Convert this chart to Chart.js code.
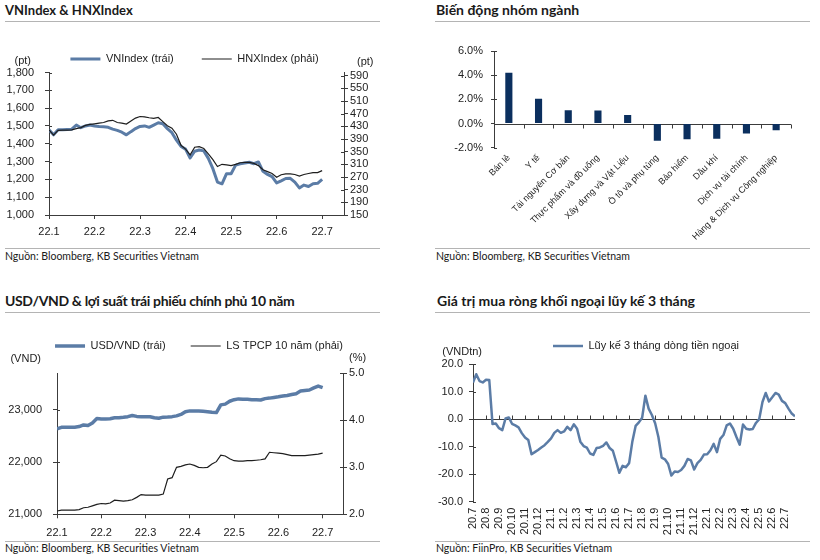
<!DOCTYPE html>
<html lang="vi">
<head>
<meta charset="utf-8">
<title>VNIndex, nhóm ngành, tỷ giá, khối ngoại</title>
<script src="https://cdn.jsdelivr.net/npm/chart.js@4.4.1/dist/chart.umd.min.js"></script>
<style>
  html, body { margin: 0; padding: 0; background: #fff; }
  body { position: relative; width: 820px; height: 560px; overflow: hidden; font-family: Lato, 'Noto Sans', sans-serif; color: #1a1a1a; }
  .title { position: absolute; font-weight: 700; font-size: 14px; line-height: 18px; white-space: nowrap; }
  .rule { position: absolute; height: 0; border-top: 1px solid #b4b4b4; }
  .src { position: absolute; font-size: 10.5px; line-height: 12px; white-space: nowrap; }
  canvas { position: absolute; }
</style>
</head>
<body>

<div class="title" style="left:5px;top:1px;font-size:13px">VNIndex &amp; HNXIndex</div>
<div class="rule" style="left:5px;top:21px;width:375px"></div>
<canvas id="c1" width="400" height="215" style="left:0;top:30px"></canvas>
<div class="rule" style="left:5px;top:248px;width:375px"></div>
<div class="src" style="left:5px;top:250px">Nguồn: Bloomberg, KB Securities Vietnam</div>

<div class="title" style="left:436px;top:1px">Biến động nhóm ngành</div>
<div class="rule" style="left:435px;top:21px;width:375px"></div>
<canvas id="c2" width="400" height="215" style="left:420px;top:30px"></canvas>
<div class="rule" style="left:435px;top:248px;width:375px"></div>
<div class="src" style="left:436px;top:250px">Nguồn: Bloomberg, KB Securities Vietnam</div>

<div class="title" style="left:5px;top:292px;letter-spacing:-0.35px">USD/VND &amp; lợi suất trái phiếu chính phủ 10 năm</div>
<div class="rule" style="left:5px;top:312px;width:375px"></div>
<canvas id="c3" width="400" height="215" style="left:0;top:325px"></canvas>
<div class="rule" style="left:5px;top:541px;width:375px"></div>
<div class="src" style="left:5px;top:542px">Nguồn: Bloomberg, KB Securities Vietnam</div>

<div class="title" style="left:437px;top:292px">Giá trị mua ròng khối ngoại lũy kế 3 tháng</div>
<div class="rule" style="left:435px;top:312px;width:375px"></div>
<canvas id="c4" width="400" height="215" style="left:420px;top:325px"></canvas>
<div class="rule" style="left:435px;top:541px;width:375px"></div>
<div class="src" style="left:436px;top:542px">Nguồn: FiinPro, KB Securities Vietnam</div>

<script>
// ---- dữ liệu ----
// VNIndex & HNXIndex, 22.1 -> 22.7, 10 điểm / tháng
const indexMonths = ['22.1', '22.2', '22.3', '22.4', '22.5', '22.6', '22.7'];
const vnIndex = [1478, 1450, 1478, 1478, 1480, 1482, 1505, 1490, 1500, 1505,
  1500, 1497, 1495, 1492, 1482, 1475, 1465, 1450, 1468, 1485,
  1497, 1500, 1492, 1505, 1518, 1512, 1485, 1462, 1420, 1385,
  1370, 1320, 1358, 1365, 1360, 1318, 1260, 1185, 1175, 1232,
  1232, 1280, 1288, 1292, 1296, 1288, 1298, 1245, 1228, 1215,
  1180, 1192, 1205, 1206, 1185, 1152, 1168, 1160, 1176, 1178, 1200];
const hnxIndex = [419, 402, 417, 418, 418, 419, 423, 426, 433, 436,
  438, 440, 442, 447, 449, 442, 440, 437, 447, 456,
  461, 460, 457, 455, 458, 445, 432, 424, 405, 370,
  358, 340, 364, 366, 360, 343, 325, 303, 310, 308,
  306, 310, 315, 316, 316, 313, 306, 293, 287, 281,
  269, 277, 280, 280, 278, 273, 278, 281, 284, 284, 290];
const vnTicks = [1000, 1100, 1200, 1300, 1400, 1500, 1600, 1700, 1800];
const hnxTicks = [150, 190, 230, 270, 310, 350, 390, 430, 470, 510, 550, 590];

// Biến động nhóm ngành (%)
const sectors = ['Bán lẻ', 'Y tế', 'Tài nguyên Cơ bản', 'Thực phẩm và đồ uống', 'Xây dựng và Vật Liệu',
  'Ô tô và phụ tùng', 'Bảo hiểm', 'Dầu khí', 'Dịch vụ tài chính', 'Hàng & Dịch vụ Công nghiệp'];
const sectorChange = [4.2, 2.05, 1.1, 1.08, 0.7, -1.42, -1.3, -1.25, -0.82, -0.55];
const sectorTicks = [-2, 0, 2, 4, 6];

// USD/VND & LS TPCP 10 năm, 22.1 -> 22.7, 10 điểm / tháng
const usdVnd = [22635, 22665, 22667, 22667, 22668, 22680, 22712, 22700, 22750, 22835,
  22826, 22826, 22830, 22848, 22850, 22858, 22870, 22892, 22875, 22870,
  22870, 22868, 22850, 22840, 22860, 22862, 22870, 22885, 22912, 22965,
  22980, 22980, 22978, 22972, 22965, 22955, 22948, 23095, 23110, 23165,
  23195, 23210, 23205, 23203, 23195, 23192, 23188, 23215, 23225, 23238,
  23250, 23265, 23275, 23295, 23310, 23360, 23372, 23380, 23420, 23455, 23425];
const bondYield = [2.07, 2.09, 2.09, 2.09, 2.09, 2.10, 2.14, 2.15, 2.18, 2.21,
  2.23, 2.22, 2.24, 2.30, 2.29, 2.28, 2.29, 2.31, 2.36, 2.42,
  2.41, 2.41, 2.41, 2.41, 2.43, 2.75, 2.78, 3.00, 3.02, 3.05,
  3.07, 3.04, 3.00, 2.99, 3.00, 3.07, 3.12, 3.26, 3.24, 3.18,
  3.14, 3.13, 3.13, 3.14, 3.14, 3.15, 3.16, 3.18, 3.32, 3.31,
  3.30, 3.29, 3.27, 3.25, 3.25, 3.25, 3.25, 3.26, 3.27, 3.28, 3.30];
const usdTicks = [21000, 22000, 23000];
const yieldTicks = [2, 3, 4, 5];

// Lũy kế 3 tháng dòng tiền ngoại (nghìn tỷ), 20.7 -> 22.7, 4 điểm / tháng
const flowMonths = ['20.7', '20.8', '20.9', '20.10', '20.11', '20.12',
  '21.1', '21.2', '21.3', '21.4', '21.5', '21.6', '21.7', '21.8', '21.9', '21.10', '21.11', '21.12',
  '22.1', '22.2', '22.3', '22.4', '22.5', '22.6', '22.7'];
const foreignFlow = [13.3, 16.3, 13.8, 13.3, 14.3, 14.2, -1.8, -1.6,
  -3.3, -4.0, 0.2, 0.6, -1.7, -2.3, -3.0, -5.1,
  -6.7, -7.6, -12.8, -12.0, -11.2, -10.3, -9.5, -8.3,
  -7.0, -5.0, -4.0, -5.0, -4.5, -2.8, -4.0, -1.9,
  -3.5, -8.2, -9.8, -10.4, -12.5, -13.0, -10.5, -10.3,
  -9.7, -8.5, -10.5, -11.5, -15.5, -19.5, -17.0, -17.5,
  -16.0, -8.1, -2.5, -1.2, 0.5, 8.5, 3.8, 1.5,
  -1.5, -6.5, -14.0, -14.6, -16.3, -20.5, -19.0, -19.2,
  -18.5, -17.0, -14.5, -15.0, -18.3, -16.0, -14.8, -12.9,
  -12.8, -11.3, -9.0, -12.0, -7.2, -5.8, -2.3, -1.6,
  -3.5, -6.5, -9.3, -2.0, -3.5, -3.8, -3.6, -1.4,
  0.0, 6.2, 9.5, 6.4, 7.9, 9.5, 8.9, 6.6,
  5.8, 3.8, 2.0, 1.0];
const flowTicks = [-30, -20, -10, 0, 10, 20];

// ---- style ----
const fontFamily = "'Liberation Sans', Arial, sans-serif";
const blue = '#5b7ca6';
const ink = '#1e1e1e';
const axisColor = '#3c3c3c';
Chart.defaults.font.family = fontFamily;
Chart.defaults.font.size = 11;
Chart.defaults.color = '#222';
Chart.defaults.animation = false;
Chart.defaults.events = [];
Chart.defaults.plugins.tooltip.enabled = false;

const withComma = v => String(v).replace(/\B(?=(\d{3})+(?!\d))/g, ',');
const asPoints = arr => arr.map((v, i) => ({ x: i, y: v }));

// trục giá trị (trái / phải)
function valueAxis(position, min, max, tickList, width, fmt, padding) {
  return {
    position, min, max,
    afterBuildTicks: s => { s.ticks = tickList.map(v => ({ value: v })); },
    afterFit: s => { s.width = width; },
    grid: { drawOnChartArea: false, tickLength: 4, color: axisColor },
    border: { color: axisColor },
    ticks: { padding, autoSkip: false, callback: fmt }
  };
}

// trục thời gian theo tháng (chỉ số điểm dữ liệu)
function monthAxis(labels, step, max, height, padding) {
  return {
    type: 'linear', min: 0, max,
    afterBuildTicks: s => { s.ticks = labels.map((_, k) => ({ value: k * step })); },
    afterFit: s => { s.height = height; },
    grid: { drawOnChartArea: false, tickLength: 4, color: axisColor },
    border: { color: axisColor },
    ticks: { padding, maxRotation: 0, autoSkip: false, callback: (v, i) => labels[i] }
  };
}

// thêm khoảng trống dưới legend
const legendGap = {
  id: 'legendGap',
  beforeLayout(chart, args, opts) {
    const lg = chart.legend;
    if (!lg || lg._gapPatched) return;
    const extra = opts.extra || 0;
    const fit = lg.fit;
    lg.fit = function () { fit.call(this); this.height += extra; };
    lg._gapPatched = true;
  }
};

// vạch chia phía trong trục tung
const innerTicks = {
  id: 'innerTicks',
  afterDraw(chart, args, opts) {
    const ctx = chart.ctx;
    ctx.save();
    ctx.strokeStyle = axisColor;
    ctx.lineWidth = 1;
    (opts.ids || []).forEach(id => {
      const s = chart.scales[id];
      const left = s.position === 'left';
      const x = left ? s.right : s.left;
      s.ticks.forEach(t => {
        const y = Math.round(s.getPixelForValue(t.value)) + 0.5;
        ctx.beginPath();
        ctx.moveTo(x, y);
        ctx.lineTo(x + (left ? 3 : -3), y);
        ctx.stroke();
      });
    });
    ctx.restore();
  }
};

// đơn vị trên đầu trục
const unitLabels = {
  id: 'unitLabels',
  afterDraw(chart, args, opts) {
    const { ctx, chartArea } = chart;
    ctx.save();
    ctx.font = '11px ' + fontFamily;
    ctx.fillStyle = '#222';
    ctx.textBaseline = 'middle';
    (opts.items || []).forEach(it => {
      ctx.textAlign = it.align;
      const x = (it.side === 'left' ? chartArea.left : chartArea.right) + it.dx;
      ctx.fillText(it.text, x, chartArea.top + it.dy);
    });
    ctx.restore();
  }
};

// trục hoành tại giá trị 0
const zeroAxis = {
  id: 'zeroAxis',
  beforeDatasetsDraw(chart, args, opts) {
    const { ctx, chartArea, scales: { x, y } } = chart;
    const y0 = Math.round(y.getPixelForValue(0)) + 0.5;
    ctx.save();
    ctx.strokeStyle = axisColor;
    ctx.lineWidth = 1;
    ctx.beginPath();
    ctx.moveTo(chartArea.left, y0);
    ctx.lineTo(chartArea.right, y0);
    ctx.stroke();
    let marks;
    if (opts.mode === 'between') {
      const w = (chartArea.right - chartArea.left) / x.ticks.length;
      marks = x.ticks.map((t, i) => x.getPixelForValue(i) + w / 2);
    } else {
      marks = x.ticks.filter(t => t.value > 0).map(t => x.getPixelForValue(t.value));
    }
    marks.forEach(px => {
      const xx = Math.round(px) + 0.5;
      ctx.beginPath();
      ctx.moveTo(xx, y0);
      ctx.lineTo(xx, y0 + opts.tick);
      ctx.stroke();
    });
    ctx.restore();
  }
};

function legendOpts(padding, align) {
  return {
    display: true, position: 'top', align,
    labels: {
      usePointStyle: true, pointStyle: 'line', pointStyleWidth: 30, padding,
      color: '#222', font: { size: 11 },
      sort: (a, b) => a.datasetIndex - b.datasetIndex
    }
  };
}

// 1. VNIndex & HNXIndex
new Chart(document.getElementById('c1'), {
  type: 'line',
  data: {
    datasets: [
      { label: 'VNIndex (trái)', data: asPoints(vnIndex), yAxisID: 'y', order: 1,
        borderColor: blue, backgroundColor: blue, borderWidth: 3, pointRadius: 0, borderJoinStyle: 'round' },
      { label: 'HNXIndex (phải)', data: asPoints(hnxIndex), yAxisID: 'y2', order: 0,
        borderColor: ink, backgroundColor: ink, borderWidth: 1.2, pointRadius: 0 }
    ]
  },
  options: {
    responsive: false,
    layout: { padding: { top: -4.5, left: 0, right: 11, bottom: 0 } },
    scales: {
      x: monthAxis(indexMonths, 10, 64.8, 30, 6),
      y: valueAxis('left', 1000, 1800, vnTicks, 49, v => withComma(v), 11),
      y2: valueAxis('right', 150, 600, hnxTicks, 45, v => String(v), 2)
    },
    plugins: {
      legend: legendOpts(28, 'center'),
      legendGap: { extra: -2 },
      innerTicks: { ids: ['y', 'y2'] },
      unitLabels: { items: [
        { text: '(pt)', side: 'left', dx: -18, dy: -11.7, align: 'right' },
        { text: '(pt)', side: 'right', dx: 13, dy: -10.7, align: 'left' }
      ] }
    }
  },
  plugins: [legendGap, innerTicks, unitLabels]
});

// 2. Biến động nhóm ngành
new Chart(document.getElementById('c2'), {
  type: 'bar',
  data: {
    labels: sectors,
    datasets: [{ data: sectorChange, backgroundColor: '#0b2f5e', barPercentage: 0.24, categoryPercentage: 1 }]
  },
  options: {
    responsive: false,
    layout: { padding: { top: 21, left: 0, right: 29, bottom: 0 } },
    scales: {
      x: {
        afterFit: s => { s.height = 97.3; },
        grid: { display: false, drawTicks: false },
        border: { display: false },
        ticks: { minRotation: 45, maxRotation: 45, autoSkip: false, padding: 5, font: { size: 9 } }
      },
      y: {
        min: -2, max: 6,
        afterBuildTicks: s => { s.ticks = sectorTicks.map(v => ({ value: v })); },
        afterFit: s => { s.width = 74; },
        grid: { drawOnChartArea: false, tickLength: 3, color: axisColor },
        border: { color: axisColor },
        ticks: { padding: 8, autoSkip: false, callback: v => v.toFixed(1) + '%' }
      }
    },
    plugins: {
      legend: { display: false },
      innerTicks: { ids: ['y'] },
      zeroAxis: { mode: 'between', tick: 4 }
    }
  },
  plugins: [innerTicks, zeroAxis]
});

// 3. USD/VND & lợi suất TPCP 10 năm
new Chart(document.getElementById('c3'), {
  type: 'line',
  data: {
    datasets: [
      { label: 'USD/VND (trái)', data: asPoints(usdVnd), yAxisID: 'y',
        borderColor: blue, backgroundColor: blue, borderWidth: 3.5, pointRadius: 0, borderJoinStyle: 'round' },
      { label: 'LS TPCP 10 năm (phải)', data: asPoints(bondYield), yAxisID: 'y2',
        borderColor: ink, backgroundColor: ink, borderWidth: 1.2, pointRadius: 0 }
    ]
  },
  options: {
    responsive: false,
    layout: { padding: { top: -9.5, left: 0, right: 2, bottom: 0 } },
    scales: {
      x: monthAxis(indexMonths, 10, 64.6, 25.7, 8),
      y: valueAxis('left', 21000, 23700, usdTicks, 57, v => withComma(v), 11),
      y2: valueAxis('right', 2, 5, yieldTicks, 55, v => v.toFixed(1), 2)
    },
    plugins: {
      legend: legendOpts(25, 'center'),
      legendGap: { extra: 11.8 },
      innerTicks: { ids: ['y', 'y2'] },
      unitLabels: { items: [
        { text: '(VND)', side: 'left', dx: -16, dy: -14.3, align: 'right' },
        { text: '(%)', side: 'right', dx: 6, dy: -15.3, align: 'left' }
      ] }
    }
  },
  plugins: [legendGap, innerTicks, unitLabels]
});

// 4. Giá trị mua ròng khối ngoại lũy kế 3 tháng
new Chart(document.getElementById('c4'), {
  type: 'line',
  data: {
    datasets: [
      { label: 'Lũy kế 3 tháng dòng tiền ngoại', data: asPoints(foreignFlow),
        borderColor: blue, backgroundColor: blue, borderWidth: 2.5, pointRadius: 0, borderJoinStyle: 'round' }
    ]
  },
  options: {
    responsive: false,
    layout: { padding: { top: -117.5, left: 0, right: 25, bottom: 0 } },
    scales: {
      x: {
        type: 'linear', min: 0, max: foreignFlow.length - 1,
        afterBuildTicks: s => { s.ticks = flowMonths.map((_, k) => ({ value: k * 4 })); },
        afterFit: s => { s.height = 38.3; },
        grid: { display: false, drawTicks: false },
        border: { display: false },
        ticks: { minRotation: 90, maxRotation: 90, autoSkip: false, padding: 6, callback: (v, i) => flowMonths[i] }
      },
      y: valueAxis('left', -30, 20, flowTicks, 53, v => v.toFixed(1), 6)
    },
    plugins: {
      legend: legendOpts(133, 'start'),
      legendGap: { extra: 2.5 },
      innerTicks: { ids: ['y'] },
      zeroAxis: { mode: 'ticks', tick: -4 },
      unitLabels: { items: [
        { text: '(VNDtn)', side: 'left', dx: 9, dy: -12.5, align: 'right' }
      ] }
    }
  },
  plugins: [legendGap, innerTicks, zeroAxis, unitLabels]
});
</script>
</body>
</html>
